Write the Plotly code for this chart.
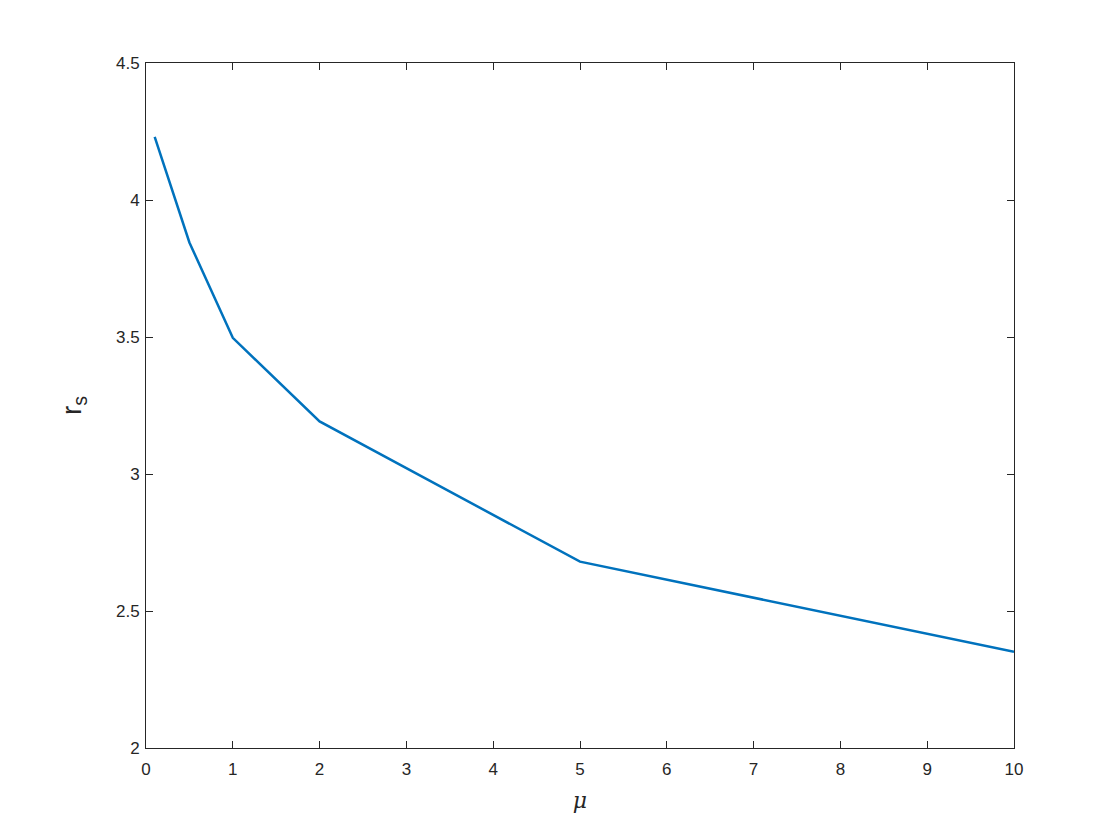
import plotly.graph_objects as go

# values
mu = [0.1, 0.5, 1, 2, 5, 10]
r_s = [4.23, 3.845, 3.497, 3.192, 2.68, 2.351]

x_ticks = list(range(0, 11))
y_ticks = [2, 2.5, 3, 3.5, 4, 4.5]


def main():
    fig = go.Figure()
    fig.add_trace(go.Scatter(
        x=mu, y=r_s, mode='lines',
        line=dict(color='#0072BD', width=2.5),
        showlegend=False,
    ))

    axis_style = dict(
        showgrid=False, zeroline=False,
        showline=True, linecolor='#262626', linewidth=1, mirror='ticks',
        ticks='inside', ticklen=7, tickcolor='#262626', tickwidth=1,
        tickfont=dict(family='Liberation Sans, Arial', size=17, color='#262626'),
    )

    fig.update_xaxes(
        range=[0, 10], tickvals=x_ticks, ticklabelstandoff=6,
        title=dict(text='<i>μ</i>', font=dict(family='DejaVu Serif', size=22, color='#262626'),
                   standoff=14),
        **axis_style,
    )
    fig.update_yaxes(
        range=[2, 4.5], tickvals=y_ticks, ticktext=[f'{v:g}' for v in y_ticks],
        ticklabelstandoff=2,
        title=dict(text='r<sub>s</sub>', font=dict(family='Liberation Sans, Arial', size=28, color='#262626'),
                   standoff=26),
        **axis_style,
    )

    # the page adds an 8px body margin, so the margins are 8px smaller on top/left
    fig.update_layout(
        width=1120, height=840,
        margin=dict(l=138, r=114, t=55, b=100),
        plot_bgcolor='white', paper_bgcolor='white',
    )
    fig.write_html("out.html")


if __name__ == "__main__":
    main()
